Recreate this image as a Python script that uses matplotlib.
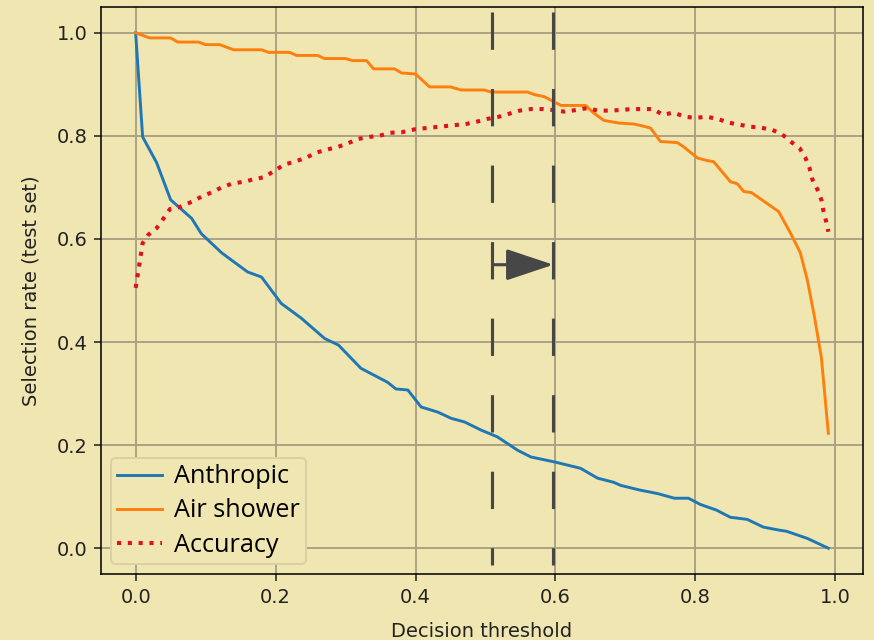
import matplotlib
matplotlib.use("Agg")
import matplotlib.pyplot as plt
from matplotlib.patches import FancyArrowPatch

# ---- data ----
anth_x = [0, 0.01, 0.03, 0.05, 0.08, 0.094, 0.123, 0.16, 0.18, 0.208, 0.237, 0.27, 0.29,
          0.322, 0.36, 0.372, 0.389, 0.408, 0.432, 0.451, 0.47, 0.494, 0.517, 0.546, 0.565,
          0.60, 0.636, 0.66, 0.683, 0.693, 0.72, 0.746, 0.77, 0.79, 0.807, 0.83, 0.85, 0.874,
          0.897, 0.92, 0.93, 0.96, 0.99]
anth_y = [1.0, 0.798, 0.748, 0.676, 0.64, 0.61, 0.573, 0.536, 0.526, 0.475, 0.446, 0.407, 0.394,
          0.349, 0.322, 0.309, 0.307, 0.274, 0.264, 0.252, 0.245, 0.229, 0.216, 0.19, 0.177,
          0.167, 0.155, 0.136, 0.128, 0.122, 0.113, 0.106, 0.097, 0.097, 0.085, 0.074, 0.06, 0.056,
          0.041, 0.035, 0.033, 0.019, 0.0]

air_x = [0, 0.02, 0.05, 0.06, 0.09, 0.10, 0.12, 0.14, 0.18, 0.19, 0.22, 0.23, 0.26, 0.27, 0.30,
         0.31, 0.33, 0.34, 0.37, 0.38, 0.40, 0.42, 0.45, 0.465, 0.498, 0.508, 0.56, 0.57, 0.584,
         0.598, 0.608, 0.643, 0.655, 0.669, 0.69, 0.712, 0.725, 0.736, 0.75, 0.774, 0.783, 0.803,
         0.817, 0.826, 0.85, 0.86, 0.869, 0.88, 0.897, 0.919, 0.936, 0.95, 0.96, 0.97, 0.98, 0.99]
air_y = [1.0, 0.99, 0.99, 0.982, 0.982, 0.977, 0.977, 0.967, 0.967, 0.962, 0.962, 0.956, 0.956,
         0.95, 0.95, 0.946, 0.946, 0.93, 0.93, 0.922, 0.92, 0.895, 0.895, 0.889, 0.889, 0.885,
         0.885, 0.88, 0.876, 0.866, 0.859, 0.859, 0.844, 0.83, 0.825, 0.823, 0.819, 0.815, 0.789,
         0.787, 0.779, 0.757, 0.752, 0.75, 0.711, 0.707, 0.692, 0.69, 0.674, 0.653, 0.611, 0.573,
         0.52, 0.45, 0.37, 0.223]

acc_x = [0, 0.005, 0.01, 0.018, 0.03, 0.04, 0.049, 0.063, 0.08, 0.094, 0.108, 0.123, 0.137,
         0.154, 0.17, 0.184, 0.198, 0.212, 0.227, 0.243, 0.257, 0.272, 0.288, 0.304, 0.318,
         0.334, 0.348, 0.364, 0.38, 0.40, 0.45, 0.472, 0.486, 0.503, 0.519, 0.534, 0.549, 0.565,
         0.582, 0.598, 0.613, 0.629, 0.646, 0.66, 0.676, 0.692, 0.709, 0.725, 0.74, 0.753, 0.769,
         0.785, 0.80, 0.816, 0.832, 0.846, 0.862, 0.877, 0.893, 0.909, 0.923, 0.936, 0.949,
         0.957, 0.963, 0.967, 0.974, 0.98, 0.983, 0.987, 0.99]
acc_y = [0.505, 0.548, 0.592, 0.608, 0.621, 0.64, 0.658, 0.662, 0.672, 0.682, 0.69, 0.70, 0.707,
         0.711, 0.716, 0.72, 0.732, 0.744, 0.75, 0.757, 0.767, 0.773, 0.778, 0.786, 0.794,
         0.798, 0.80, 0.806, 0.807, 0.813, 0.82, 0.823, 0.827, 0.833, 0.837, 0.843, 0.849, 0.852,
         0.852, 0.85, 0.847, 0.85, 0.854, 0.849, 0.849, 0.85, 0.852, 0.852, 0.852, 0.841, 0.845,
         0.837, 0.835, 0.837, 0.833, 0.826, 0.822, 0.818, 0.816, 0.812, 0.804, 0.789, 0.776,
         0.758, 0.738, 0.716, 0.697, 0.676, 0.654, 0.633, 0.614]

labels = ["Anthropic", "Air shower", "Accuracy"]
threshold_old = 0.51
threshold_new = 0.597
arrow_level = 0.55

BG = "#F0E6B2"
GRID = "#ABA384"
DARK = "#474747"

fig = plt.figure(figsize=(874 / 140, 640 / 140), dpi=140, facecolor=BG)
ax = fig.add_axes([101 / 874, 1 - 574 / 640, (863 - 101) / 874, (574 - 7) / 640])
ax.set_facecolor(BG)

ax.plot(anth_x, anth_y, color="#1f77b4", lw=1.5, label=labels[0])
ax.plot(air_x, air_y, color="#ff7f0e", lw=1.5, label=labels[1])
ax.plot(acc_x, acc_y, color="#E01020", lw=2.1, linestyle=":", label=labels[2])

ax.set_xlim(-0.0495, 1.0395)
ax.set_ylim(-0.05, 1.05)
ax.set_xticks([0.0, 0.2, 0.4, 0.6, 0.8, 1.0])
ax.set_yticks([0.0, 0.2, 0.4, 0.6, 0.8, 1.0])
ax.grid(True, color=GRID, lw=1.0)
ax.set_axisbelow(True)
ax.set_xlabel("Decision threshold", color="#222222", labelpad=8)
ax.set_ylabel("Selection rate (test set)", color="#222222", labelpad=8)
ax.tick_params(colors="#222222")

# dashed threshold markers (drawn top-down so the dash pattern starts at the top)
for thr in (threshold_old, threshold_new):
    ax.plot([thr, thr], [1.04, -0.033], color=DARK, lw=1.6,
            linestyle=(0, (12, 12.6)), zorder=5, clip_on=False)

arrow = FancyArrowPatch((threshold_old, arrow_level), (threshold_new, arrow_level),
                        arrowstyle="-|>,head_length=21,head_width=7",
                        mutation_scale=1, color=DARK, lw=1.6,
                        shrinkA=0, shrinkB=0, zorder=6)
ax.add_patch(arrow)

leg = ax.legend(loc="lower left", prop={"family": "Open Sans", "size": 13},
                facecolor=BG, edgecolor="#D9D0A6", framealpha=1.0,
                labelspacing=0.36, handlelength=1.75, handletextpad=0.47,
                borderpad=0.25, borderaxespad=0.4)

fig.savefig("out.png", dpi=140, facecolor=BG)
